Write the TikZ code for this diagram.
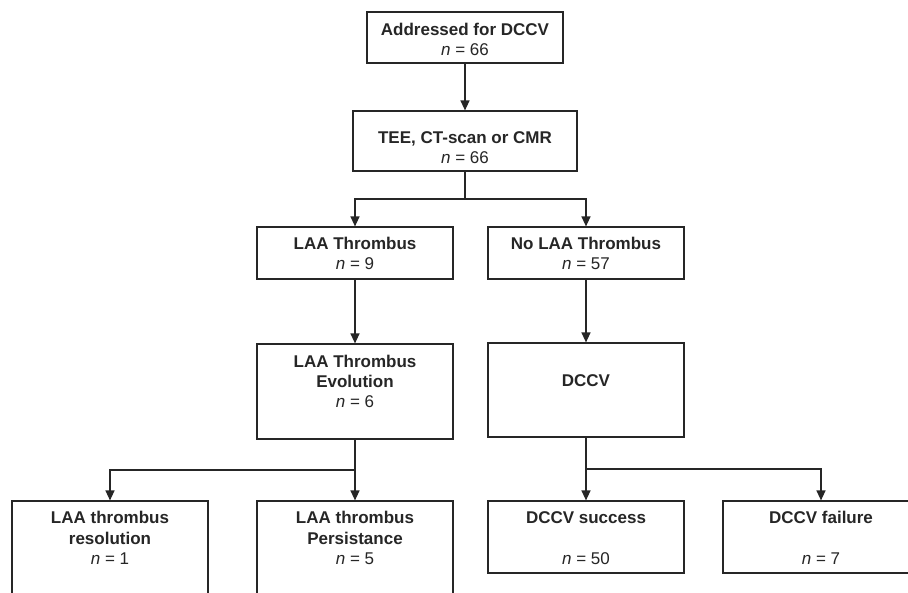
\documentclass[tikz,border=0pt]{standalone}
\usepackage{fontspec}
\setmainfont{Liberation Sans}
\usetikzlibrary{arrows.meta}
\definecolor{ink}{HTML}{262626}
\begin{document}
\begin{tikzpicture}[x=1pt,y=-1pt,
  box/.style={draw=ink,line width=1.2pt,minimum width=196pt,inner sep=0pt},
  lbl/.style={font=\fontsize{17}{20}\selectfont\bfseries,text=ink,inner sep=0pt,text height=12pt,text depth=0pt},
  cnt/.style={font=\fontsize{17}{20}\selectfont,text=ink,inner sep=0pt,text height=12pt,text depth=0pt},
  arr/.style={draw=ink,line width=1.3pt,-{Triangle[length=10pt,width=9pt]}},
  ln/.style={draw=ink,line width=1.3pt}]
\useasboundingbox (0,0) rectangle (908,592);
\clip (0,0) rectangle (908,592);
\fill[white] (0,0) rectangle (908,592);

% boxes
\node[box,minimum height=51pt] (b1) at (465,37.5) {};
\node[box,minimum width=224pt,minimum height=60pt] (b2) at (465,141) {};
\node[box,minimum height=52pt] (b3) at (355,253) {};
\node[box,minimum height=52pt] (b4) at (586,253) {};
\node[box,minimum height=95pt] (b5) at (355,391.5) {};
\node[box,minimum height=94pt] (b6) at (586,390) {};
\node[box,minimum height=120pt] (b7) at (110,561) {};
\node[box,minimum height=120pt] (b8) at (355,561) {};
\node[box,minimum height=72pt] (b9) at (586,537) {};
\node[box,minimum height=72pt] (b10) at (821,537) {};

% texts
\node[lbl] (t1a) at (465,29) {Addressed for DCCV};
\node[cnt] (t1b) at (465,49) {\textit{n} = 66};
\node[lbl] (t2a) at (465,137) {TEE, CT-scan or CMR};
\node[cnt] (t2b) at (465,157) {\textit{n} = 66};
\node[lbl] (t3a) at (355,243) {LAA Thrombus};
\node[cnt] (t3b) at (355,263) {\textit{n} = 9};
\node[lbl] (t4a) at (586,243) {No LAA Thrombus};
\node[cnt] (t4b) at (586,263) {\textit{n} = 57};
\node[lbl] (t5a) at (355,361) {LAA Thrombus};
\node[lbl] (t5b) at (355,381) {Evolution};
\node[cnt] (t5c) at (355,401) {\textit{n} = 6};
\node[lbl] (t6a) at (586,380) {DCCV};
\node[lbl] (t7a) at (110,517) {LAA thrombus};
\node[lbl] (t7b) at (110,538) {resolution};
\node[cnt] (t7c) at (110,558) {\textit{n} = 1};
\node[lbl] (t8a) at (355,517) {LAA thrombus};
\node[lbl] (t8b) at (355,538) {Persistance};
\node[cnt] (t8c) at (355,558) {\textit{n} = 5};
\node[lbl] (t9a) at (586,517) {DCCV success};
\node[cnt] (t9b) at (586,558) {\textit{n} = 50};
\node[lbl] (t10a) at (821,517) {DCCV failure};
\node[cnt] (t10b) at (821,558) {\textit{n} = 7};

% junctions
\coordinate (j1) at (465,199);
\coordinate (j2) at (355,470);
\coordinate (j3) at (586,469);

% connectors
\draw[arr] (b1.south) -- (b2.north);
\draw[ln] (b2.south) -- (j1);
\draw[arr] (j1) -| (b3.north);
\draw[arr] (j1) -| (b4.north);
\draw[arr] (b3.south) -- (b5.north);
\draw[arr] (b4.south) -- (b6.north);
\draw[ln] (b5.south) -- (j2);
\draw[arr] (j2) -| (b7.north);
\draw[arr] (j2) -- (b8.north);
\draw[ln] (b6.south) -- (j3);
\draw[arr] (j3) -- (b9.north);
\draw[arr] (j3) -| (b10.north);
\end{tikzpicture}
\end{document}
